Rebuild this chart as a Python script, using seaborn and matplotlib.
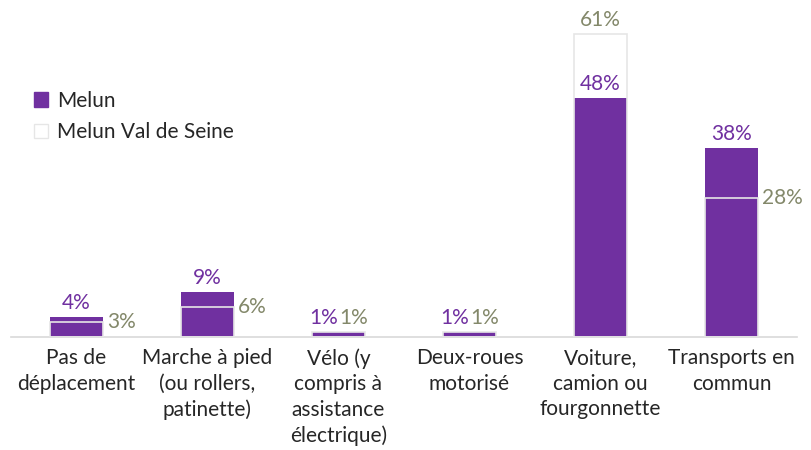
import matplotlib
matplotlib.use("Agg")
import matplotlib.pyplot as plt
import seaborn as sns
import pandas as pd
from matplotlib.patches import Patch

categories = [
    "Pas de\ndéplacement",
    "Marche à pied\n(ou rollers,\npatinette)",
    "Vélo (y\ncompris à\nassistance\nélectrique)",
    "Deux-roues\nmotorisé",
    "Voiture,\ncamion ou\nfourgonnette",
    "Transports en\ncommun",
]
melun = [4, 9, 1, 1, 48, 38]
melun_val_de_seine = [3, 6, 1, 1, 61, 28]
series_names = ["Melun", "Melun Val de Seine"]

PURPLE = "#7030A0"
OLIVE = "#83886a"
EDGE = "#e6e6e6"
TEXT = "#262626"

sns.set_theme(style="white")
plt.rcParams["font.family"] = ["Lato", "DejaVu Sans"]
FS = 15

df = pd.DataFrame({"cat": categories, "Melun": melun, "MVS": melun_val_de_seine})

fig = plt.figure(figsize=(8.11, 4.5), dpi=100)
ax = fig.add_axes([11 / 811, 113 / 450, 786 / 811, 333 / 450])

# Melun filled bars, with the wider agglomeration bars as outlines on top
sns.barplot(data=df, x="cat", y="Melun", color=PURPLE, saturation=1,
            width=0.4, ax=ax, zorder=2)
sns.barplot(data=df, x="cat", y="MVS", color="white", saturation=1,
            width=0.4, ax=ax, zorder=3, fill=False)
n = len(categories)
for p in ax.patches[n:]:
    p.set_facecolor("none")
    p.set_edgecolor(EDGE)
    p.set_linewidth(1.2)
for p in ax.patches[:n]:
    p.set_edgecolor(PURPLE)
    p.set_linewidth(0)

ax.set_xlim(-0.5, n - 0.5)
ax.set_ylim(0, 67)
ax.set_xlabel("")
ax.set_ylabel("")
ax.set_yticks([])
ax.tick_params(axis="x", length=0, pad=8, labelsize=FS, labelcolor=TEXT)
for lbl in ax.get_xticklabels():
    lbl.set_linespacing(1.35)
for side in ["top", "right", "left"]:
    ax.spines[side].set_visible(False)
ax.spines["bottom"].set_color("#d9d9d9")
ax.spines["bottom"].set_linewidth(1.2)

half = 0.2
for i, (a, b) in enumerate(zip(melun, melun_val_de_seine)):
    if b > a:
        ax.annotate(f"{a}%", (i, a), xytext=(0, 3), textcoords="offset points",
                    ha="center", va="bottom", color=PURPLE, fontsize=FS)
        ax.annotate(f"{b}%", (i, b), xytext=(0, 3), textcoords="offset points",
                    ha="center", va="bottom", color=OLIVE, fontsize=FS)
    elif b == a:
        ax.annotate(f"{a}%", (i, a), xytext=(-11, 3), textcoords="offset points",
                    ha="center", va="bottom", color=PURPLE, fontsize=FS)
        ax.annotate(f"{b}%", (i, b), xytext=(11, 3), textcoords="offset points",
                    ha="center", va="bottom", color=OLIVE, fontsize=FS)
    else:
        ax.annotate(f"{a}%", (i, a), xytext=(0, 3), textcoords="offset points",
                    ha="center", va="bottom", color=PURPLE, fontsize=FS)
        ax.annotate(f"{b}%", (i + half, b), xytext=(3, 0), textcoords="offset points",
                    ha="left", va="center", color=OLIVE, fontsize=FS)

handles = [
    Patch(facecolor=PURPLE, edgecolor=PURPLE, label=series_names[0]),
    Patch(facecolor="white", edgecolor=EDGE, label=series_names[1]),
]
leg = fig.legend(handles=handles, loc="upper left", bbox_to_anchor=(15 / 811, 1 - 72 / 450),
                 frameon=False, fontsize=FS, handlelength=0.7, handleheight=0.7,
                 handletextpad=0.4, labelspacing=0.55)
for t in leg.get_texts():
    t.set_color(TEXT)

fig.savefig("out.png", dpi=100)
